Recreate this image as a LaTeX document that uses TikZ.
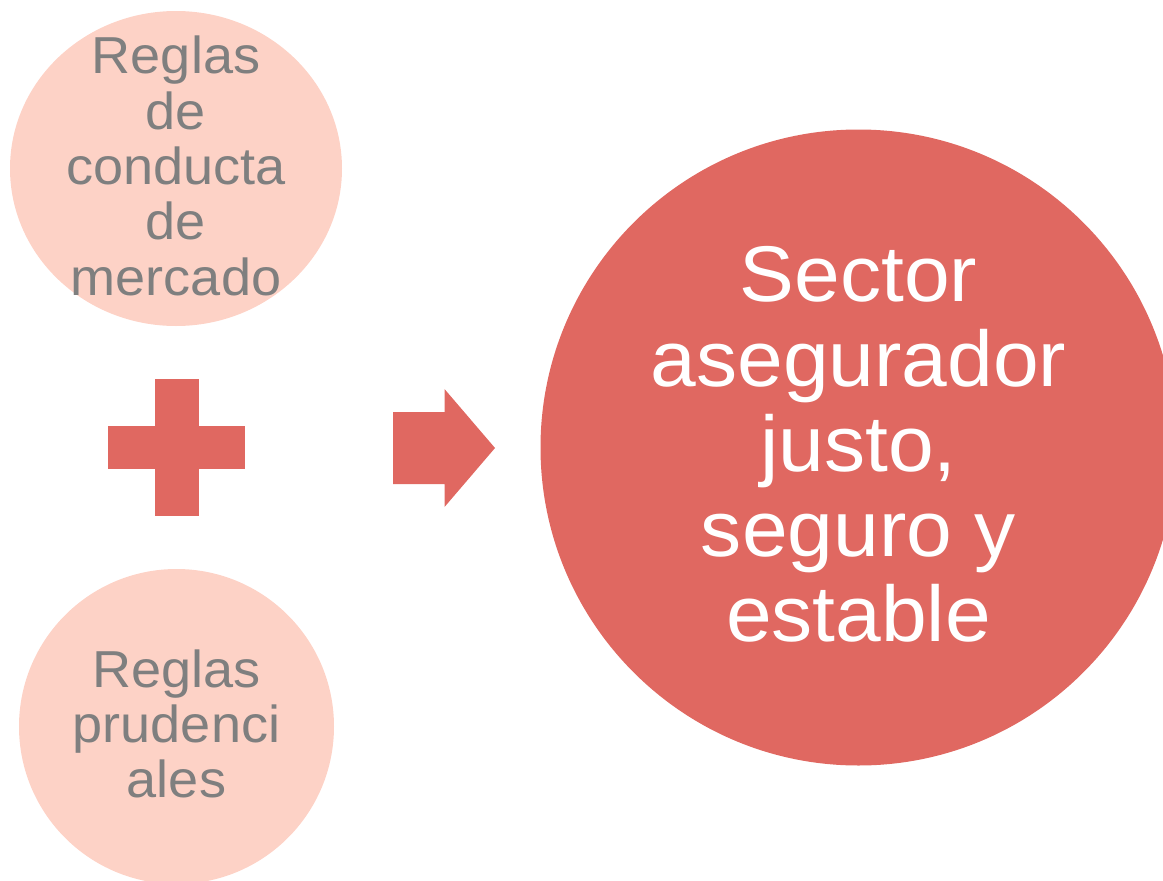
\documentclass[tikz,border=0pt]{standalone}
\usepackage{fontspec}
\setmainfont{Liberation Sans}[FakeStretch=1.04]
\definecolor{SoftClr}{RGB}{253,210,198}
\definecolor{StrongClr}{RGB}{224,104,97}
\definecolor{TextClr}{RGB}{127,127,127}

\begin{document}
\begin{tikzpicture}[x=1pt,y=-1pt,
  softtext/.style={text=TextClr,align=center,inner sep=0pt,font=\fontsize{52}{55.3}\selectfont},
  bigtext/.style={text=white,align=center,inner sep=0pt,font=\fontsize{79}{85}\selectfont}]
\useasboundingbox (0,0) rectangle (1163,881);
\clip (0,0) rectangle (1163,881);

% left circles
\fill[SoftClr] (176,168.5) ellipse [x radius=166,y radius=157.5];
\fill[SoftClr] (176.5,726.5) circle [radius=157.5];

% plus sign
\fill[StrongClr] (108,426) rectangle (245,469);
\fill[StrongClr] (154.5,379) rectangle (198.5,516);

% arrow
\fill[StrongClr] (393,412) -- (444.5,412) -- (444.5,389) -- (495,448)
  -- (444.5,507) -- (444.5,484) -- (393,484) -- cycle;

% big circle
\fill[StrongClr] (858.5,447.5) circle [radius=318];

\node[softtext] (conducta) at (176,166) {Reglas\\de\\conducta\\de\\mercado};
\node[softtext] (prudentes) at (176.5,724) {Reglas\\prudenci\\ales};
\node[bigtext] (sector) at (858.5,444) {Sector\\asegurador\\justo,\\seguro y\\estable};

\end{tikzpicture}
\end{document}
